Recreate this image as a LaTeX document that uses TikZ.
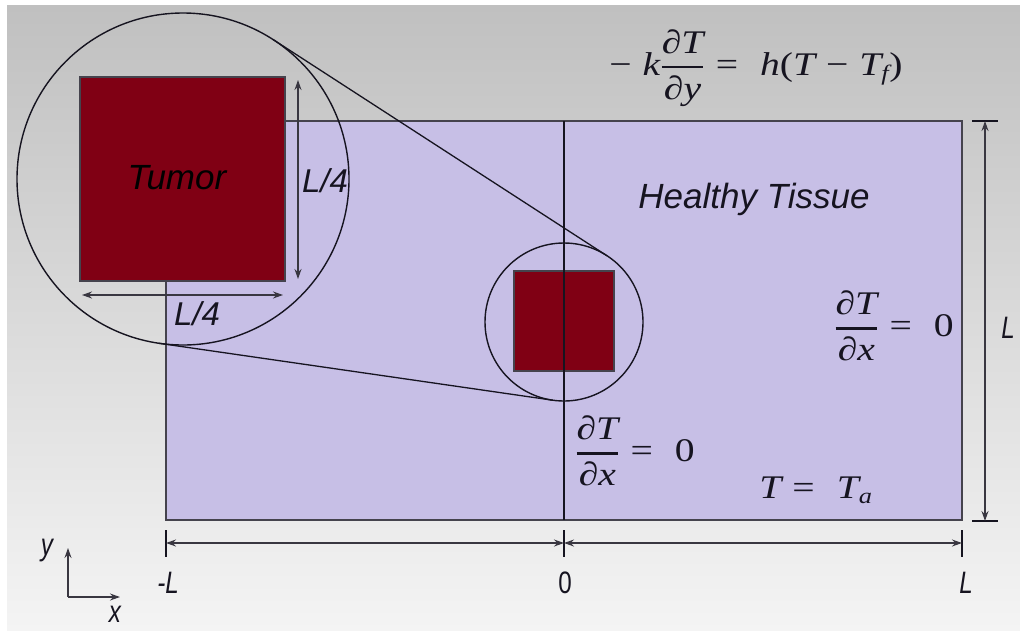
\RequirePackage{fix-cm}
\documentclass[tikz,border=0pt]{standalone}
\usepackage{amsmath}
\usepackage{fontspec}
\newfontfamily\labfont{Liberation Sans}
\newfontfamily\eqfont{Liberation Serif}
\newcommand{\ei}[1]{\mbox{\eqfont\itshape #1}}
\newcommand{\eu}[1]{\mbox{\eqfont #1}}
\newcommand{\esub}[1]{\mbox{\fontsize{22}{24}\selectfont\eqfont\itshape #1}}
\newcommand{\pd}[2]{\genfrac{}{}{2.4pt}{0}{\ei{∂#1}}{\ei{∂#2}}}
\usetikzlibrary{arrows.meta}
\definecolor{tumorred}{RGB}{128,0,20}
\definecolor{tissue}{RGB}{199,191,230}
\definecolor{bgtop}{RGB}{192,192,192}
\definecolor{bgbot}{RGB}{244,244,244}
\definecolor{ink}{RGB}{22,20,32}
\begin{document}
\begin{tikzpicture}[x=1pt,y=-1pt,
  lab/.style={font=\labfont\itshape\fontsize{35}{38}\selectfont, text=ink, inner sep=0pt},
  dimlab/.style={font=\labfont\itshape\fontsize{33}{36}\selectfont, text=ink, inner sep=0pt},
  axlab/.style={font=\labfont\itshape\fontsize{31}{34}\selectfont, text=ink, inner sep=0pt, xscale=0.78, transform shape},
  numlab/.style={font=\labfont\fontsize{31}{34}\selectfont, text=ink, inner sep=0pt, xscale=0.78, transform shape},
  eqn/.style={font=\eqfont\fontsize{33}{38}\selectfont, text=ink, inner sep=0pt, xscale=1.2, transform shape},
  dimarrow/.style={draw=ink!85, line width=1.3pt, {Stealth[length=10pt,width=7pt]}-{Stealth[length=10pt,width=7pt]}},
  tick/.style={draw=ink, line width=1.6pt},
  thinline/.style={draw=ink, line width=1.3pt},
  tumorbox/.style={draw=ink!80, fill=tumorred, line width=1.2pt, inner sep=0pt},
  ring/.style={circle, draw=ink, line width=1.4pt, inner sep=0pt}
]
\useasboundingbox (0,0) rectangle (1020,633);
\fill[white] (0,0) rectangle (1020,633);
\shade[top color=bgtop, bottom color=bgbot] (7,5) rectangle (1020,630);

% main domain
\coordinate (TL) at (166,121);
\coordinate (BR) at (962,520);
\draw[fill=tissue, draw=ink!80, line width=1.5pt] (TL) rectangle (BR);

% small tumor and centre line
\node[tumorbox, minimum size=100pt] (smalltumor) at (564,321) {};
\coordinate (midtop) at (564,121);
\coordinate (midbot) at (564,520);
\draw[thinline] (midtop) -- (midbot);
\node[ring, minimum size=158pt] (smallcirc) at (564,322) {};

% tangent lines of zoom
\coordinate (tA1) at (273.2,39.6);
\coordinate (tA2) at (606.9,255.7);
\coordinate (tB1) at (159.2,343.3);
\coordinate (tB2) at (552.7,400.2);
\draw[thinline] (tA1) -- (tA2);
\draw[thinline] (tB1) -- (tB2);

% enlarged tumor
\node[tumorbox, minimum width=205pt, minimum height=204pt] (bigtumor) at (182.5,179) {};
\node[lab, text=black] (tumortext) at (177,178) {Tumor};
\node[ring, minimum size=332pt] (bigcirc) at (183,179) {};

% L/4 dimensions
\coordinate (v1) at (298,80);
\coordinate (v2) at (298,279);
\draw[dimarrow] (v1) -- (v2);
\node[dimlab] (lqv) at (325,181) {L/4};
\coordinate (h1) at (82,295);
\coordinate (h2) at (283,295);
\draw[dimarrow] (h1) -- (h2);
\node[dimlab] (lqh) at (197,314) {L/4};

% labels in domain
\node[lab] (healthy) at (754,199) {Healthy Tissue};
\node[eqn] (topeq) at (756,68) {$\eu{−\;}\ei{k}\pd{T}{y}\eu{\;=\;\;}\ei{h}\eu{(}\ei{T}\eu{\;−\;}\ei{T}_{\esub{f}}\eu{)}$};
\node[eqn] (righteq) at (894,326) {$\pd{T}{x}\eu{\;=\;\;0}$};
\node[eqn] (mideq) at (635,451) {$\pd{T}{x}\eu{\;=\;\;0}$};
\node[eqn] (tempeq) at (816,490) {$\ei{T}\eu{\;=\;\;}\ei{T}_{\esub{a}}$};

% right dimension L
\coordinate (rt1) at (972,121); \coordinate (rt2) at (998,121);
\coordinate (rb1) at (972,521); \coordinate (rb2) at (998,521);
\coordinate (ra1) at (985,121); \coordinate (ra2) at (985,521);
\draw[tick] (rt1) -- (rt2);
\draw[tick] (rb1) -- (rb2);
\draw[dimarrow] (ra1) -- (ra2);
\node[axlab] (rL) at (1008,328) {L};

% bottom dimension
\coordinate (bl1) at (166,530); \coordinate (bl2) at (166,557);
\coordinate (bm1) at (564,530); \coordinate (bm2) at (564,557);
\coordinate (br1) at (962,530); \coordinate (br2) at (962,557);
\draw[tick] (bl1) -- (bl2);
\draw[tick] (bm1) -- (bm2);
\draw[tick] (br1) -- (br2);
\coordinate (bal) at (166,543); \coordinate (bam) at (564,543); \coordinate (bar) at (962,543);
\draw[dimarrow] (bal) -- (bam);
\draw[dimarrow] (bam) -- (bar);
\node[axlab] (mL) at (168,583) {-L};
\node[numlab] (zero) at (565,583) {0};
\node[axlab] (pL) at (966,583) {L};

% axes
\coordinate (org) at (68,597);
\coordinate (yend) at (68,548);
\coordinate (xend) at (120,597);
\draw[draw=ink!85, line width=1.3pt, -{Stealth[length=10pt,width=7pt]}] (org) -- (yend);
\draw[draw=ink!85, line width=1.3pt, -{Stealth[length=10pt,width=7pt]}] (org) -- (xend);
\node[axlab] (ylab) at (47,551) {y};
\node[axlab] (xlab) at (115,614) {x};
\end{tikzpicture}
\end{document}
